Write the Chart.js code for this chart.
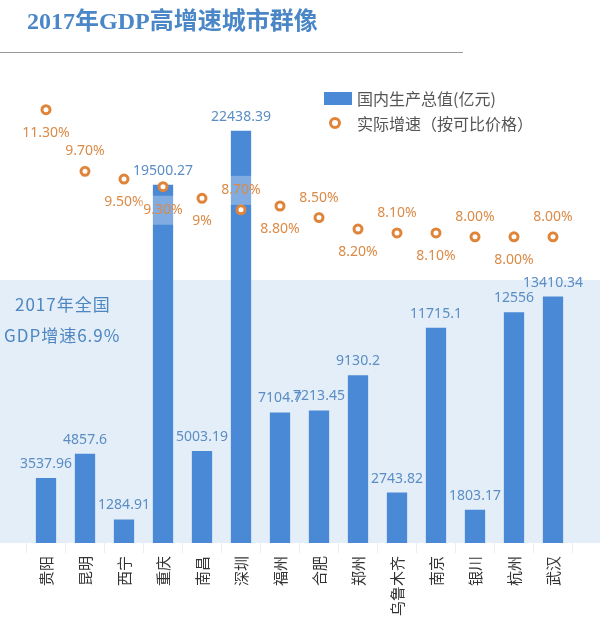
<!DOCTYPE html>
<html><head><meta charset="utf-8">
<script src="https://cdn.jsdelivr.net/npm/chart.js@4"></script>
<style>
html,body{margin:0;padding:0;background:#fff;}
#wrap{position:relative;width:600px;height:626px;overflow:hidden;font-family:"Noto Sans","Noto Sans CJK SC",sans-serif;}
#c{position:absolute;left:0;top:0;}
.title{position:absolute;left:27px;top:4px;font-family:"Liberation Serif","Noto Sans CJK SC",serif;font-weight:bold;font-size:24px;line-height:34px;color:#4b87c6;white-space:nowrap;}
.rule{position:absolute;left:0;top:52px;width:463px;height:1px;background:#9a9a9a;}
.lg{position:absolute;font-size:16px;line-height:20px;color:#555;white-space:nowrap;font-family:"Noto Sans CJK SC",sans-serif;}
.sq{position:absolute;left:324px;top:92px;width:28px;height:13px;background:#4a89d6;}
.ring{position:absolute;left:329px;top:117px;width:6px;height:6px;border:3px solid #e0843a;border-radius:50%;background:#fff;}
.note{position:absolute;font-size:17px;line-height:22px;letter-spacing:1px;color:#4d86c0;white-space:nowrap;font-family:"Noto Sans CJK SC",sans-serif;}
</style></head>
<body><div id="wrap">
<canvas id="c" width="600" height="626"></canvas>
<div class="title">2017年GDP高增速城市群像</div>
<div class="rule"></div>
<div class="sq"></div>
<div class="lg" style="left:357px;top:88px;">国内生产总值(亿元)</div>
<div class="ring"></div>
<div class="lg" style="left:357px;top:113px;">实际增速（按可比价格）</div>
<div class="note" style="left:15px;top:293px;">2017年全国</div>
<div class="note" style="left:4px;top:324px;">GDP增速6.9%</div>
</div>
<script>
const cities = ['贵阳','昆明','西宁','重庆','南昌','深圳','福州','合肥','郑州','乌鲁木齐','南京','银川','杭州','武汉'];
const gdp = [3537.96,4857.6,1284.91,19500.27,5003.19,22438.39,7104.7,7213.45,9130.2,2743.82,11715.1,1803.17,12556,13410.34];
const gdpLabels = ['3537.96','4857.6','1284.91','19500.27','5003.19','22438.39','7104.7','7213.45','9130.2','2743.82','11715.1','1803.17','12556','13410.34'];
const growth = [11.3,9.7,9.5,9.3,9.0,8.7,8.8,8.5,8.2,8.1,8.1,8.0,8.0,8.0];
const growthLabels = ['11.30%','9.70%','9.50%','9.30%','9%','8.70%','8.80%','8.50%','8.20%','8.10%','8.10%','8.00%','8.00%','8.00%'];
const growthLabelSide = ['below','above','below','below','below','above','below','above','below','above','below','above','below','above'];

const BAR = '#4a89d6', ORANGE = '#e0843a';

const bandPlugin = {
  id:'band',
  beforeDraw(chart){
    const ctx = chart.ctx, a = chart.chartArea;
    ctx.save();
    ctx.fillStyle = '#e3eef8';
    ctx.fillRect(0, 280, chart.width, a.bottom - 280);
    ctx.restore();
  }
};
const labelPlugin = {
  id:'vlabels',
  afterDatasetsDraw(chart){
    const ctx = chart.ctx;
    ctx.save();
    const bm = chart.getDatasetMeta(0);
    ctx.font = '14px "Noto Sans", sans-serif';
    ctx.fillStyle = '#5b8dc4';
    ctx.textAlign = 'center';
    ctx.textBaseline = 'alphabetic';
    bm.data.forEach((el,i)=>{ ctx.fillText(gdpLabels[i], el.x, el.y - 10); });
    const pm = chart.getDatasetMeta(1);
    ctx.textBaseline = 'middle';
    pm.data.forEach((el,i)=>{
      const y = el.y + (growthLabelSide[i]==='above' ? -20 : 23);
      const w = ctx.measureText(growthLabels[i]).width + 8;
      ctx.fillStyle = 'rgba(255,255,255,0.3)';
      ctx.fillRect(el.x - w/2, y - 14, w, 29);
      ctx.fillStyle = '#dc8a46';
      ctx.fillText(growthLabels[i], el.x, y);
    });
    ctx.restore();
  }
};

new Chart(document.getElementById('c'), {
  type:'bar',
  data:{
    labels: cities,
    datasets:[
      {type:'bar', data:gdp, backgroundColor:BAR, yAxisID:'y', order:2, barPercentage:0.52, categoryPercentage:1},
      {type:'line', data:growth, yAxisID:'y1', order:1, showLine:false, pointRadius:4, pointBorderWidth:3,
       pointBorderColor:ORANGE, pointBackgroundColor:'#fff', borderColor:ORANGE, backgroundColor:'#fff'}
    ]
  },
  options:{
    responsive:false, animation:false,
    layout:{padding:{left:26.5, right:27.5, top:102, bottom:0}},
    plugins:{legend:{display:false}, tooltip:{enabled:false}},
    scales:{
      x:{
        grid:{display:true, drawOnChartArea:false, drawTicks:true, tickLength:10, color:'rgba(0,0,0,0.07)'},
        border:{display:false},
        ticks:{color:'#333', font:{size:15, family:'"Noto Sans CJK SC", sans-serif'}, padding:3, minRotation:90, maxRotation:90, autoSkip:false},
        afterFit(axis){ axis.height = 83; }
      },
      y:{display:false, min:0, max:24000},
      y1:{display:false, min:0.05, max:11.5, position:'right'}
    }
  },
  plugins:[bandPlugin, labelPlugin]
});
</script>
</body></html>
